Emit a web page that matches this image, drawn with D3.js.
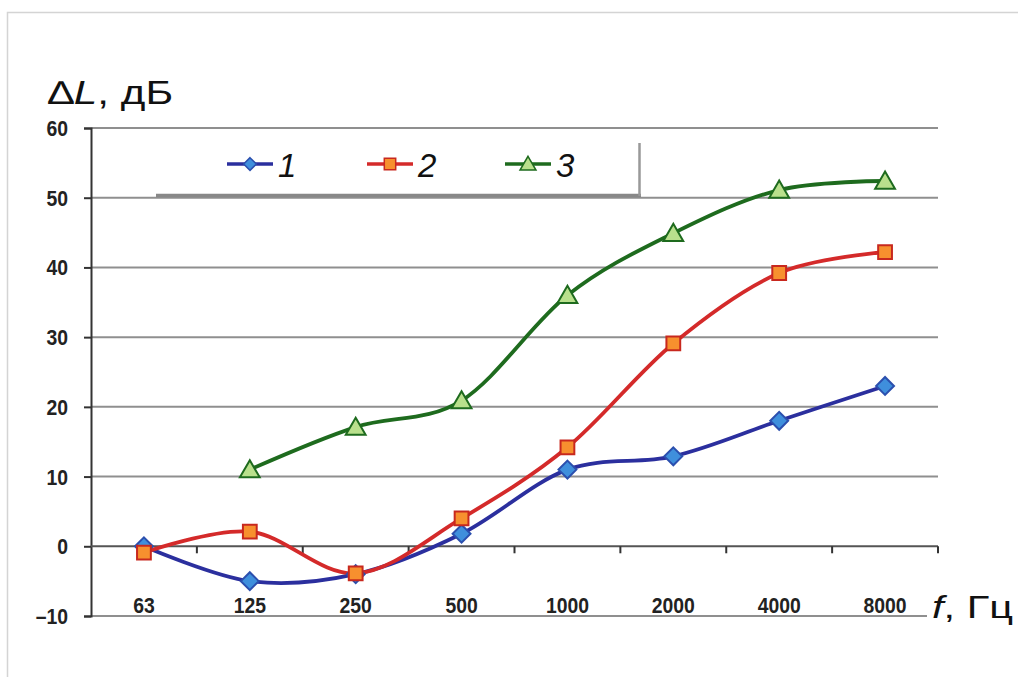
<!DOCTYPE html>
<html><head><meta charset="utf-8">
<script src="https://cdn.jsdelivr.net/npm/d3@7"></script>
<style>body{margin:0;background:#fff}svg{display:block}</style>
</head><body>
<svg id="c" width="1018" height="677"></svg>
<script>
const categories = ["63","125","250","500","1000","2000","4000","8000"];
const series1 = [0, -5, -4, 1.8, 11, 12.9, 18, 23];
const series2 = [-0.9, 2.1, -3.9, 4, 14.2, 29.1, 39.2, 42.2];
const series3 = [null, 11, 17.1, 20.9, 36, 44.9, 51.1, 52.4];
const yTicks = [-10, 0, 10, 20, 30, 40, 50, 60];
const seriesNames = ["1","2","3"];

(function(){
const svg = d3.select("#c");
const pLeft = 91, pRight = 938, pTop = 128, pBottom = 616;
const FONT = "Liberation Sans, Arial, sans-serif";
const x = d3.scaleBand().domain(categories).range([pLeft, pRight]);
const y = d3.scaleLinear().domain([-10, 60]).range([pBottom, pTop]);

// outer frame
svg.append("rect").attr("x",7.5).attr("y",12.5).attr("width",1030).attr("height",700)
  .attr("fill","none").attr("stroke","#d4d4d4").attr("stroke-width",1.5);

// gridlines
svg.append("g").selectAll("line").data(yTicks.filter(d=>d!==0)).join("line")
  .attr("x1",pLeft).attr("x2",d=>d===-10?927:pRight)
  .attr("y1",d=>y(d)).attr("y2",d=>y(d))
  .attr("stroke","#8f8f8f").attr("stroke-width",2);

// y axis
const yAxis = svg.append("g").attr("transform",`translate(${pLeft},0)`)
  .call(d3.axisLeft(y).tickValues(yTicks).tickSize(7).tickFormat(""));
yAxis.select(".domain").attr("stroke","#333").attr("stroke-width",2);
yAxis.selectAll(".tick line").attr("stroke","#333").attr("stroke-width",2);
svg.append("g").selectAll("text").data(yTicks).join("text")
  .attr("transform",d=>`translate(68,${y(d)+8}) scale(0.88,1)`)
  .attr("text-anchor","end").attr("font-family",FONT).attr("font-weight","bold")
  .attr("font-size",22).attr("fill","#222")
  .text(d=>d<0?"\u2013"+Math.abs(d):d);

// x axis at y=0
const xAxisG = svg.append("g").attr("transform",`translate(0,${y(0)})`);
xAxisG.append("line").attr("x1",pLeft).attr("x2",pRight).attr("y1",0).attr("y2",0)
  .attr("stroke","#555").attr("stroke-width",2);
const boundaries = categories.map(c=>x(c)+x.bandwidth());
xAxisG.selectAll("line.tk").data(boundaries).join("line").attr("class","tk")
  .attr("x1",d=>d).attr("x2",d=>d).attr("y1",0).attr("y2",7)
  .attr("stroke","#333").attr("stroke-width",2);
svg.append("g").selectAll("text").data(categories).join("text")
  .attr("transform",d=>`translate(${x(d)+x.bandwidth()/2},613) scale(0.88,1)`)
  .attr("text-anchor","middle").attr("font-family",FONT)
  .attr("font-weight","bold").attr("font-size",22).attr("fill","#222").text(d=>d);

// axis titles
const t1 = svg.append("text").attr("transform","translate(48,104) scale(1.28,1)").attr("font-family",FONT)
  .attr("font-size",33).attr("fill","#111");
t1.append("tspan").text("\u2206");
t1.append("tspan").attr("font-style","italic").text("L");
t1.append("tspan").text(", дБ");
const t2 = svg.append("text").attr("transform","translate(932,618) scale(1.3,1)").attr("font-family",FONT)
  .attr("font-size",32).attr("fill","#111");
t2.append("tspan").attr("font-style","italic").text("f");
t2.append("tspan").text(", Гц");

// series
const diamond = {draw(ctx, size){ const r = Math.sqrt(size/2); ctx.moveTo(0,-r); ctx.lineTo(r,0); ctx.lineTo(0,r); ctx.lineTo(-r,0); ctx.closePath(); }};
const styles = [
  {line:"#2b2f9e", fill:"#3f8fdc", stroke:"#2b4fae", sym:diamond, size:160, lsize:80},
  {line:"#d42a2a", fill:"#f7902e", stroke:"#c8281e", sym:d3.symbolSquare, size:190, lsize:130},
  {line:"#1e6b1e", fill:"#b9e08c", stroke:"#1e6b1e", sym:d3.symbolTriangle, size:170, lsize:110}
];
const allSeries = [series1, series2, series3];
const lineGen = d3.line()
  .x(d=>x(d.c)+x.bandwidth()/2).y(d=>y(d.v)).curve(d3.curveCatmullRom.alpha(0));

allSeries.forEach((s,i)=>{
  const pts = s.map((v,j)=>({c:categories[j], v})).filter(p=>p.v!==null);
  svg.append("path").datum(pts).attr("d",lineGen)
    .attr("fill","none").attr("stroke",styles[i].line).attr("stroke-width",3.8);
});
allSeries.forEach((s,i)=>{
  const pts = s.map((v,j)=>({c:categories[j], v})).filter(p=>p.v!==null);
  const st = styles[i];
  const sym = d3.symbol().type(st.sym).size(st.size);
  svg.append("g").selectAll("path").data(pts).join("path")
    .attr("d", sym)
    .attr("transform",d=>{
      const dy = st.sym===d3.symbolTriangle ? 2 : 0;
      return `translate(${x(d.c)+x.bandwidth()/2},${y(d.v)+dy})`;
    })
    .attr("fill",st.fill).attr("stroke",st.stroke).attr("stroke-width",2);
});

// legend
const lg = svg.append("g");
lg.append("rect").attr("x",153).attr("y",133).attr("width",485).attr("height",61).attr("fill","#fff");
lg.append("line").attr("x1",156).attr("x2",641).attr("y1",195.5).attr("y2",195.5).attr("stroke","#888").attr("stroke-width",3.5);
lg.append("line").attr("x1",639.5).attr("x2",639.5).attr("y1",143).attr("y2",196).attr("stroke","#999").attr("stroke-width",2.5);
const legX = [227, 367, 505];
seriesNames.forEach((n,i)=>{
  const st = styles[i];
  const g = lg.append("g").attr("transform",`translate(${legX[i]},164)`);
  g.append("line").attr("x1",0).attr("x2",46).attr("y1",0).attr("y2",0).attr("stroke",st.line).attr("stroke-width",3.5);
  g.append("path").attr("d",d3.symbol().type(st.sym).size(st.lsize))
    .attr("transform",`translate(23,${st.sym===d3.symbolTriangle?1.5:0})`)
    .attr("fill",st.fill).attr("stroke",st.stroke).attr("stroke-width",1.5);
  g.append("text").attr("x",51).attr("y",13).attr("font-family",FONT)
    .attr("font-style","italic").attr("font-size",33).attr("fill","#111").text(n);
});
})();
</script>
</body></html>
